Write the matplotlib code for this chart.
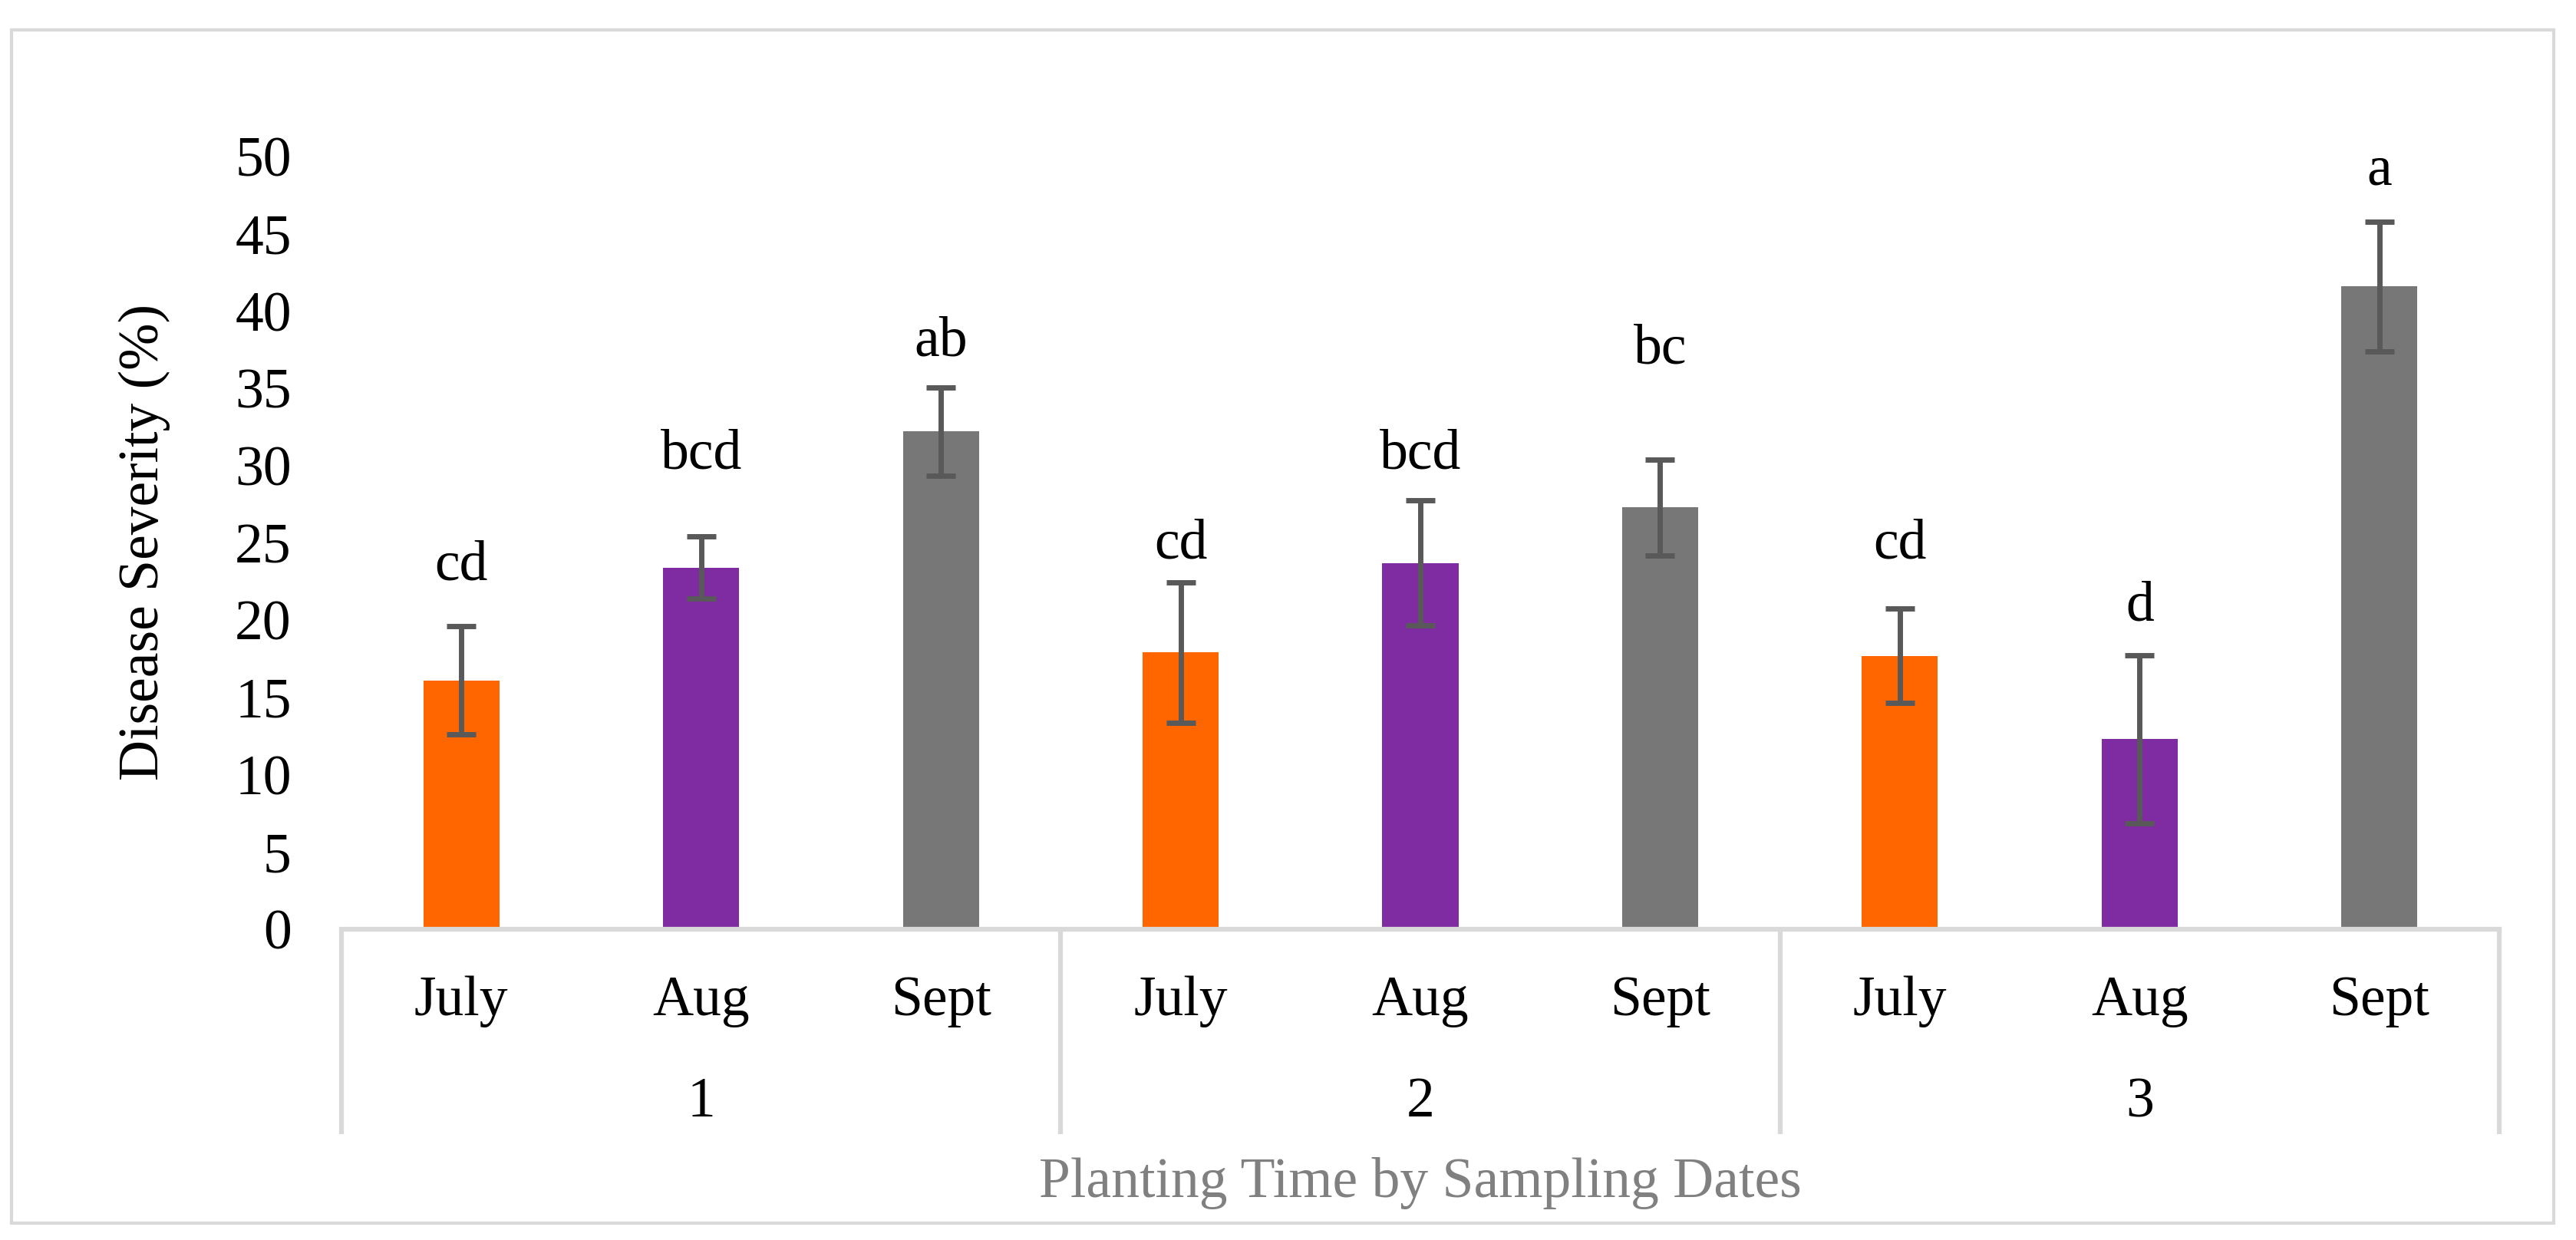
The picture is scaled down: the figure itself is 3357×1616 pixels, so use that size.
import matplotlib.pyplot as plt
from matplotlib.patches import Rectangle

# dati
months = ["July", "Aug", "Sept", "July", "Aug", "Sept", "July", "Aug", "Sept"]
groups = ["1", "2", "3"]
severity = [16.1, 23.4, 32.2, 17.9, 23.7, 27.3, 17.7, 12.3, 41.6]
errors = [3.5, 2.0, 2.85, 4.55, 4.05, 3.1, 3.05, 5.45, 4.2]
letters = ["cd", "bcd", "ab", "cd", "bcd", "bc", "cd", "d", "a"]
letter_y = [22.6, 29.8, 37.1, 24.0, 29.8, 36.6, 24.0, 20.0, 48.2]
yticks = [0, 5, 10, 15, 20, 25, 30, 35, 40, 45, 50]

month_colors = {"July": "#FF6600", "Aug": "#7F2CA2", "Sept": "#777777"}
grid_col = "#D9D9D9"

W, H = 3357, 1616
plt.rcParams['font.family'] = ['Liberation Serif', 'DejaVu Serif']
fs = 53

fig = plt.figure(figsize=(W / 100, H / 100), dpi=100)

# bordo esterno del grafico
fig.patches.append(Rectangle((15 / W, (H - 1594) / H), 3313 / W, 1555 / H,
                             transform=fig.transFigure, fill=False,
                             edgecolor=grid_col, linewidth=3))

# area del grafico in pixel
x0, x1 = 445, 3257
y0, y1 = 1211, 204
ax = fig.add_axes([x0 / W, (H - y0) / H, (x1 - x0) / W, (y0 - y1) / H])

x = list(range(len(severity)))
cols = [month_colors[m] for m in months]
ax.bar(x, severity, width=0.317, color=cols, zorder=2)
ax.errorbar(x, severity, yerr=errors, fmt='none', ecolor='#595959',
            elinewidth=5, capsize=14, capthick=5, zorder=3)

for xi, lab, ly in zip(x, letters, letter_y):
    ax.text(xi, ly, lab, ha='center', va='baseline', fontsize=fs)

ax.set_xlim(-0.5, len(x) - 0.5)
ax.set_ylim(0, 50)
ax.set_yticks(yticks)
ax.set_yticklabels([str(t) for t in yticks], fontsize=fs)
ax.tick_params(axis='y', length=0, pad=47)
ax.set_xticks([])
for s in ax.spines.values():
    s.set_visible(False)

# asse categorie gerarchico
ah = y0 - y1
tr = ax.get_xaxis_transform()
ax.plot([-0.5, len(x) - 0.5], [0, 0], transform=tr, color=grid_col,
        lw=4.5, clip_on=False, solid_capstyle='projecting', zorder=4)
sep_bottom = -(1478 - y0) / ah
for sx in [-0.5, 2.5, 5.5, 8.5]:
    ax.plot([sx, sx], [0, sep_bottom], transform=tr, color=grid_col,
            lw=4.5, clip_on=False, solid_capstyle='butt')

for xi, m in zip(x, months):
    ax.text(xi, -(1323 - y0) / ah, m, transform=tr, ha='center',
            va='baseline', fontsize=fs)
for gi, g in enumerate(groups):
    ax.text(gi * 3 + 1, -(1455 - y0) / ah, g, transform=tr, ha='center',
            va='baseline', fontsize=fs)

fig.text((x0 + x1) / 2 / W, (H - 1560) / H, "Planting Time by Sampling Dates",
         ha='center', va='baseline', fontsize=fs, color='#808080')
fig.text(188 / W, (H - 706) / H, "Disease Severity (%)", rotation=90,
         ha='center', va='center', fontsize=fs)

fig.savefig("out.png", dpi=100, facecolor='white')
